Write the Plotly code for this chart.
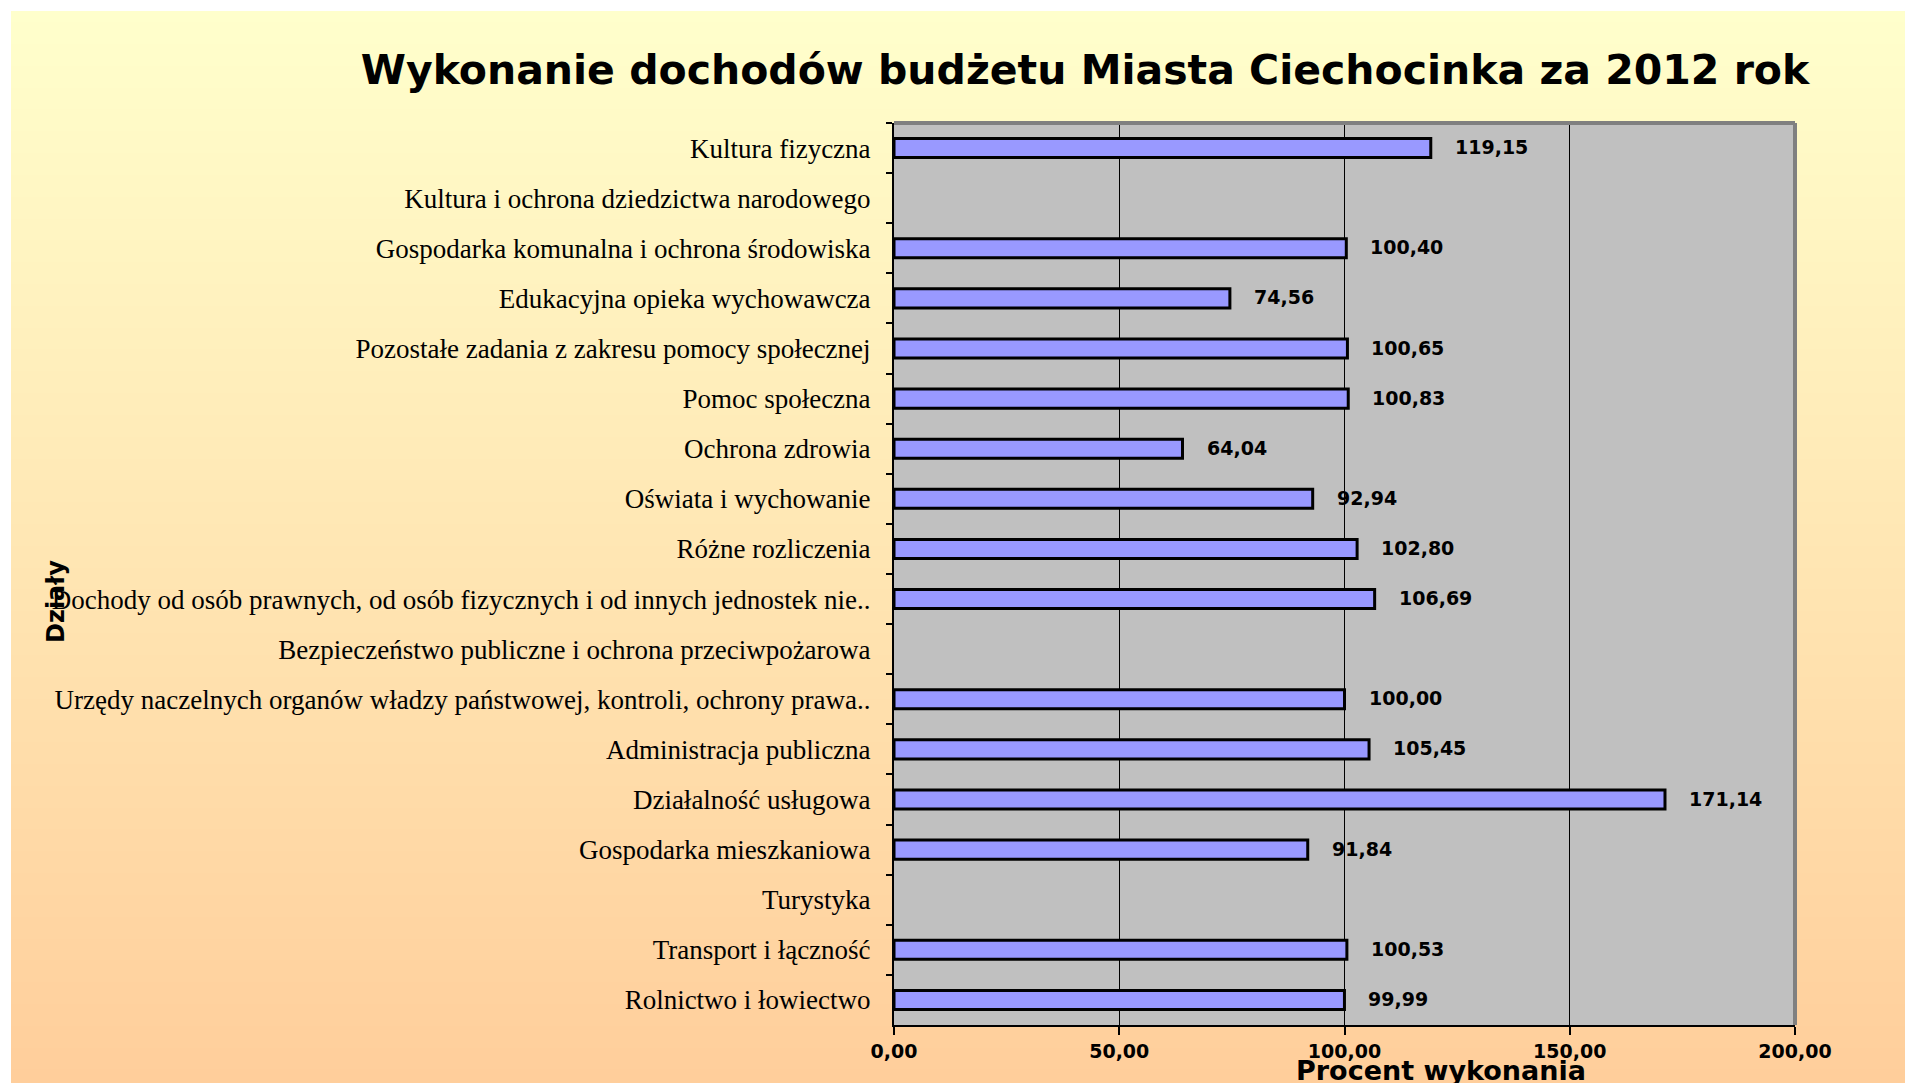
import base64
import struct
import zlib

import plotly.graph_objects as go

# ---------------- data ----------------
categories = [
    "Kultura fizyczna",
    "Kultura i ochrona dziedzictwa narodowego",
    "Gospodarka komunalna i ochrona środowiska",
    "Edukacyjna opieka wychowawcza",
    "Pozostałe zadania z zakresu pomocy społecznej",
    "Pomoc społeczna",
    "Ochrona zdrowia",
    "Oświata i wychowanie",
    "Różne rozliczenia",
    "Dochody od osób prawnych, od osób fizycznych i od innych jednostek nie..",
    "Bezpieczeństwo publiczne i ochrona przeciwpożarowa",
    "Urzędy naczelnych organów władzy państwowej, kontroli, ochrony prawa..",
    "Administracja publiczna",
    "Działalność usługowa",
    "Gospodarka mieszkaniowa",
    "Turystyka",
    "Transport i łączność",
    "Rolnictwo i łowiectwo",
]
values = [119.15, None, 100.40, 74.56, 100.65, 100.83, 64.04, 92.94, 102.80,
          106.69, None, 100.00, 105.45, 171.14, 91.84, None, 100.53, 99.99]
x_ticks = [0, 50, 100, 150, 200]

title_text = "Wykonanie dochodów budżetu Miasta Ciechocinka za 2012 rok"
x_title = "Procent wykonania"
y_title = "Działy"

# ---------------- geometry (pixels) ----------------
W, H = 1905, 1083
L, R, T, B = 894, 1795, 123, 1025


def px_x(p):
    return (p - L) / (R - L)


def px_y(p):
    return (B - p) / (B - T)


# ---------------- background gradient image ----------------
def gradient_png(top, bottom, n=256):
    rows = []
    for i in range(n):
        t = i / (n - 1)
        rows.append(bytes(int(round(a + (b - a) * t)) for a, b in zip(top, bottom)))
    raw = b"".join(b"\x00" + r for r in rows)

    def chunk(tag, data):
        return (struct.pack(">I", len(data)) + tag + data +
                struct.pack(">I", zlib.crc32(tag + data) & 0xFFFFFFFF))

    ihdr = struct.pack(">IIBBBBB", 1, n, 8, 2, 0, 0, 0)
    png = (b"\x89PNG\r\n\x1a\n" + chunk(b"IHDR", ihdr) +
           chunk(b"IDAT", zlib.compress(raw)) + chunk(b"IEND", b""))
    return "data:image/png;base64," + base64.b64encode(png).decode()


bg_src = gradient_png((255, 255, 204), (255, 204, 153))

fig = go.Figure()
fig.add_trace(go.Bar(
    y=categories,
    x=values,
    orientation="h",
    marker=dict(color="#9999FF", line=dict(color="black", width=3)),
    hoverinfo="x+y",
))

bold_sans = dict(family="DejaVu Sans", weight="bold", color="black")

annotations = []
for cat, v in zip(categories, values):
    if v is None:
        continue
    annotations.append(dict(
        x=v, y=cat, xref="x", yref="y",
        text=f"{v:.2f}".replace(".", ","),
        showarrow=False, xanchor="left", yanchor="middle", xshift=22,
        yshift=1,
        font=dict(size=19, **bold_sans),
    ))

annotations.append(dict(
    x=px_x(1441), y=px_y(1070), xref="paper", yref="paper",
    text=x_title, showarrow=False, xanchor="center", yanchor="middle",
    font=dict(size=27, **bold_sans),
))
annotations.append(dict(
    x=px_x(56), y=px_y(602), xref="paper", yref="paper",
    text=y_title, showarrow=False, xanchor="center", yanchor="middle",
    textangle=-90, font=dict(size=24, **bold_sans),
))

fig.update_layout(
    width=W, height=H,
    margin=dict(l=L, r=W - R, t=T, b=H - B, pad=0),
    paper_bgcolor="white",
    plot_bgcolor="rgba(0,0,0,0)",
    separators=", ",
    showlegend=False,
    bargap=0.62,
    title=dict(
        text=title_text, x=px_x(1085), xref="paper", xanchor="center",
        y=1 - 70 / H, yref="container", yanchor="middle",
        font=dict(size=41, **bold_sans),
    ),
    images=[dict(
        source=bg_src, xref="paper", yref="paper",
        x=px_x(11), y=px_y(11), sizex=(W - 11) / (R - L) + 0.05,
        sizey=(H - 11) / (B - T) + 0.05, xanchor="left", yanchor="top",
        sizing="stretch", layer="below",
    )],
    shapes=[
        dict(type="rect", xref="x domain", yref="y domain", x0=0, x1=1,
             y0=0, y1=1, fillcolor="#C0C0C0", line=dict(width=0), layer="below"),
        dict(type="line", xref="x domain", yref="y domain", x0=0, x1=1,
             y0=1, y1=1, line=dict(color="#808080", width=4), layer="above"),
        dict(type="line", xref="x domain", yref="y domain", x0=1, x1=1,
             y0=0, y1=1, line=dict(color="#808080", width=4), layer="above"),
    ],
    annotations=annotations,
    xaxis=dict(
        range=[0, 200], tickvals=x_ticks, tickformat=".2f",
        showgrid=True, gridcolor="black", gridwidth=1.3,
        zeroline=False, showline=True, linecolor="black", linewidth=2,
        ticks="outside", ticklen=8, tickcolor="black", tickwidth=1.5,
        ticklabelstandoff=0,
        tickfont=dict(size=19, **bold_sans),
    ),
    yaxis=dict(
        autorange="reversed", type="category",
        showgrid=False, zeroline=False,
        showline=True, linecolor="black", linewidth=2,
        ticks="outside", tickson="boundaries", ticklen=6,
        tickcolor="black", tickwidth=1.5,
        ticklabelstandoff=16,
        tickfont=dict(family="Liberation Serif", size=27, color="black"),
    ),
)

fig.write_html(
    "out.html",
    config={"displayModeBar": False},
    post_script="document.body.style.margin='0';document.body.style.overflow='hidden';",
)
